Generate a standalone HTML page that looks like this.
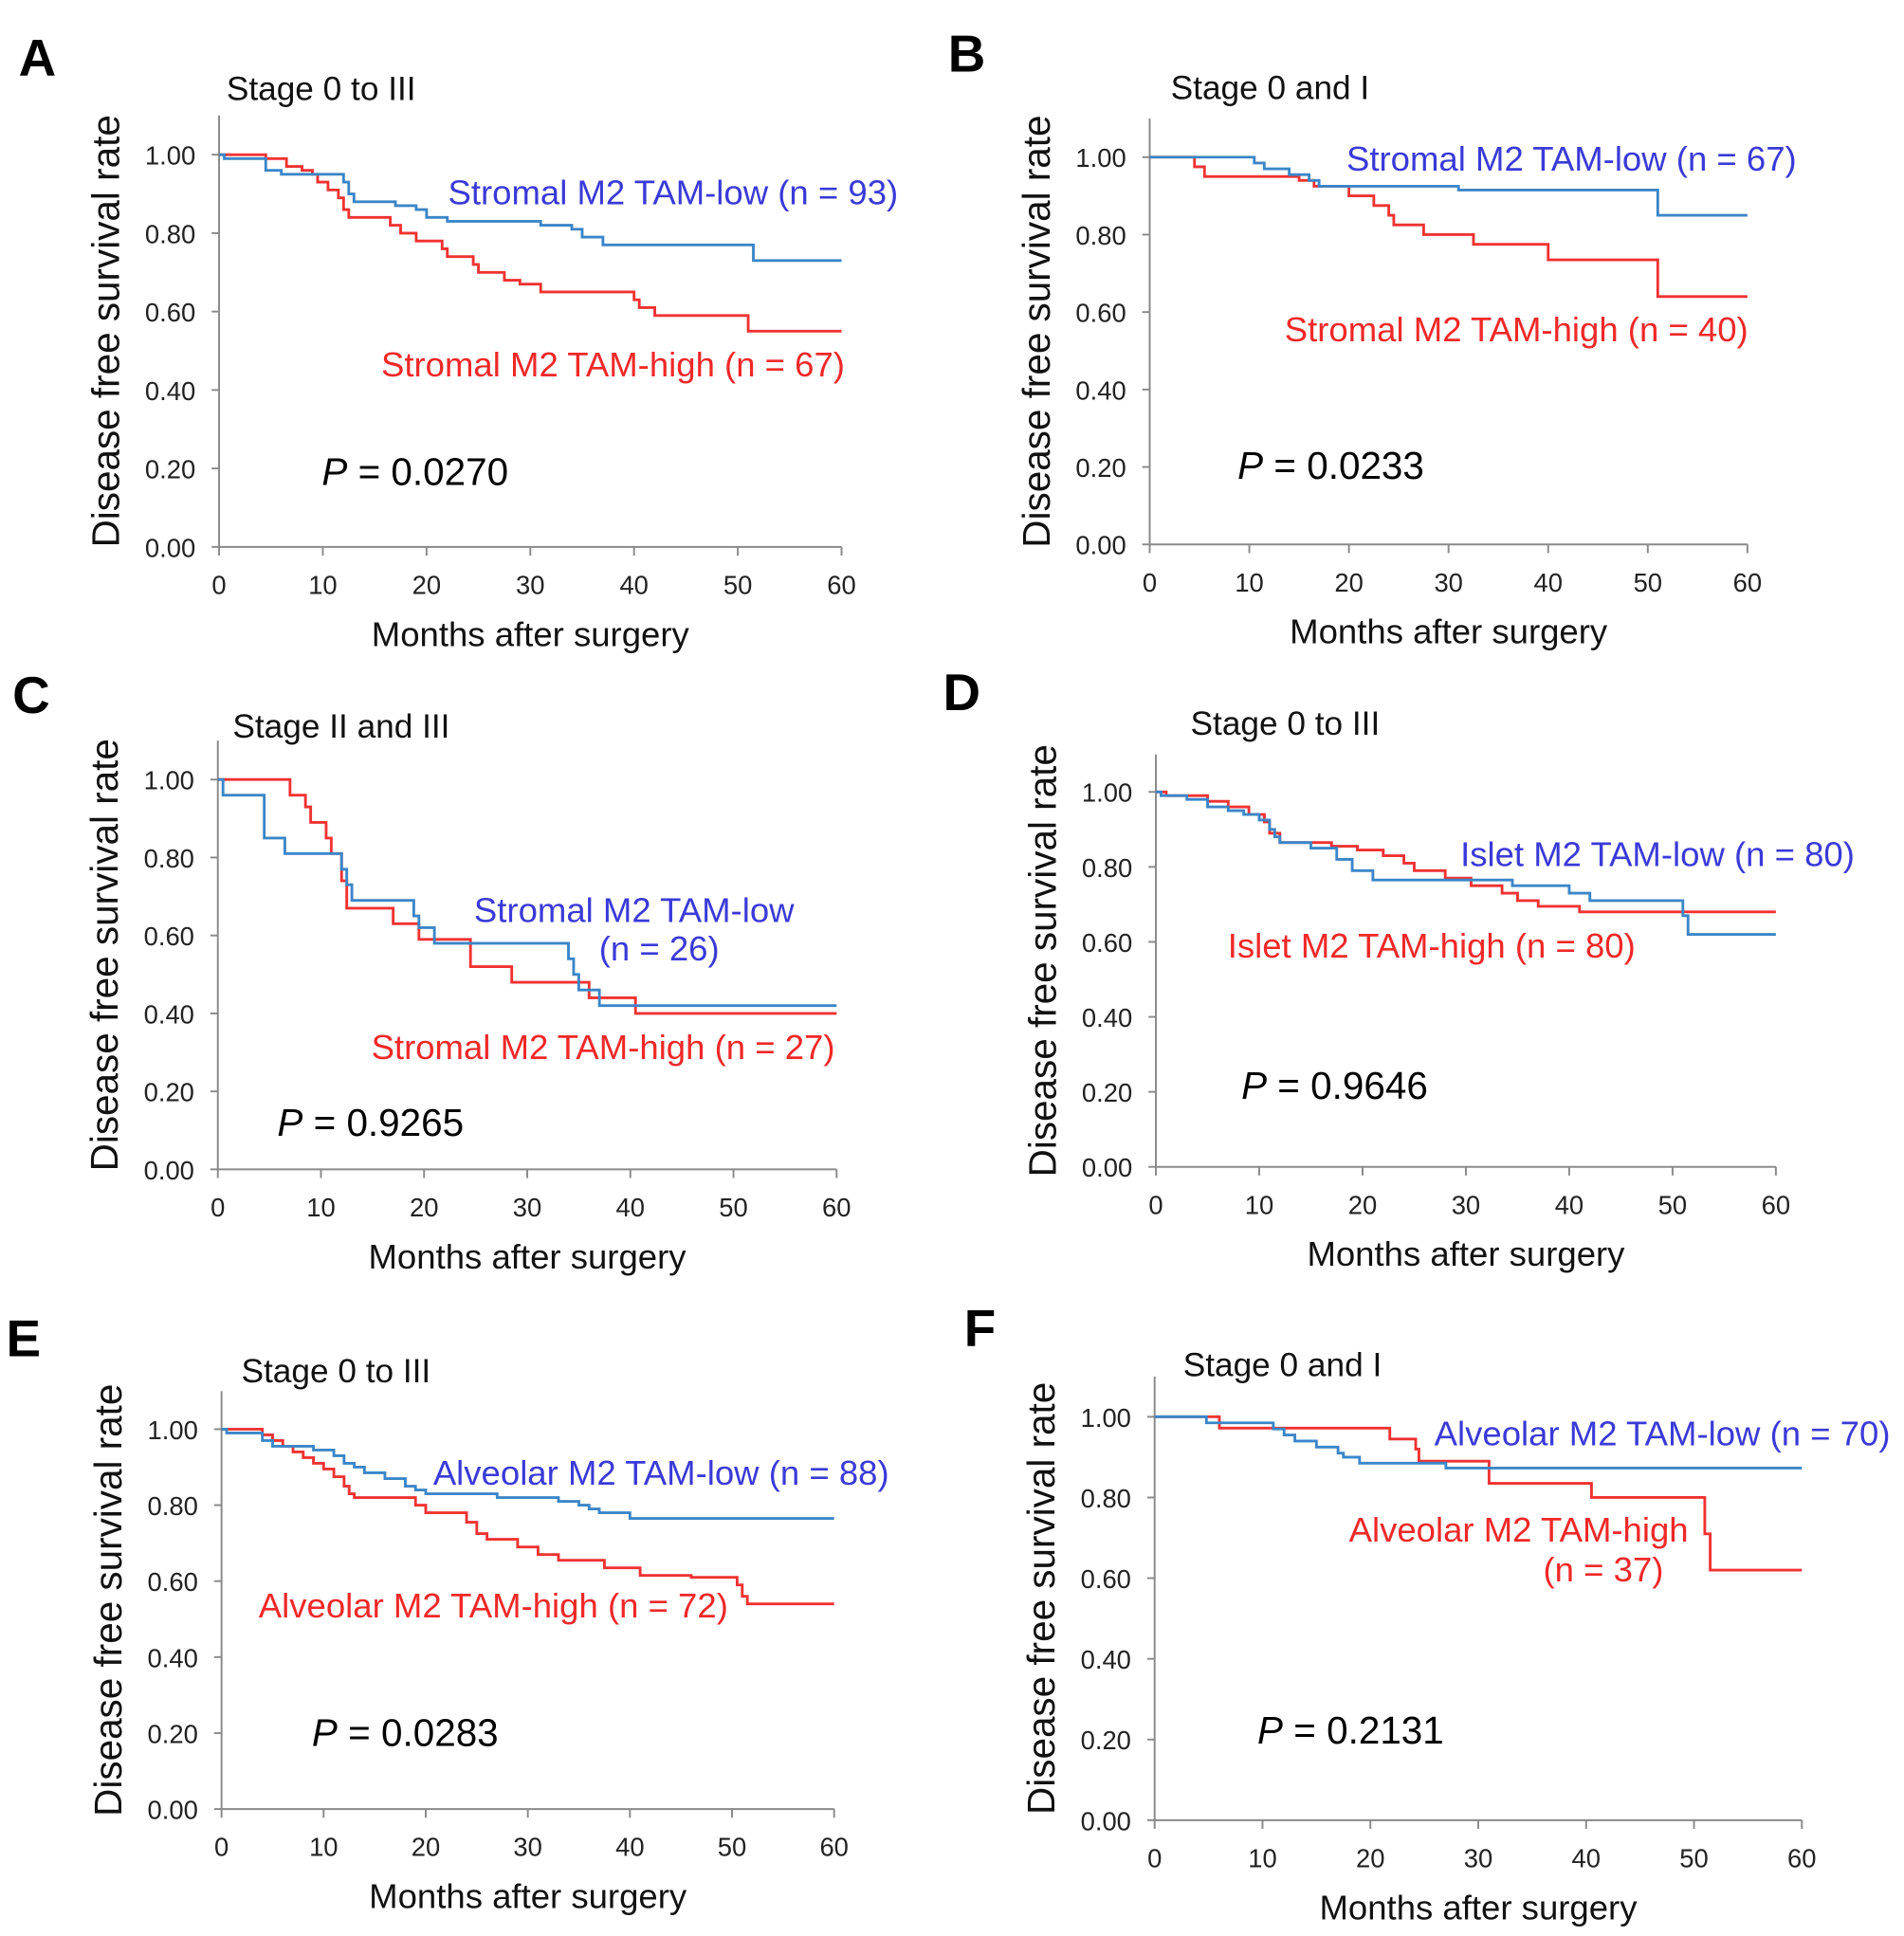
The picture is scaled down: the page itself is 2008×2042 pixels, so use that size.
<!DOCTYPE html>
<html><head><meta charset="utf-8"><style>
html,body{margin:0;padding:0;background:#fff}
svg{display:block;font-family:"Liberation Sans",Arial,sans-serif}
</style></head><body>
<svg id="fig" width="2008" height="2042" viewBox="0 0 1538.5 1564.6" xmlns="http://www.w3.org/2000/svg"></svg>
<script>
// ---- data (months, survival) ----
const xTicks = [0,10,20,30,40,50,60];
const yTicks = [0,0.2,0.4,0.6,0.8,1.0];
const yTickLabels = ["0.00","0.20","0.40","0.60","0.80","1.00"];

const aLowT = [0,0.5,4.5,6,11,12,12.5,13,17,19,20,22,31,34,35,37,51.5,60];
const aLowS = [1,0.99,0.96,0.95,0.95,0.93,0.90,0.88,0.87,0.86,0.84,0.83,0.82,0.81,0.79,0.77,0.73,0.73];
const aHighT = [0,4.5,6.5,8,9,9.5,10.5,11.5,12,12.5,16.5,17.5,19,21.5,22,24.5,25,27.5,29,31,40,40.5,42,51,60];
const aHighS = [1,0.99,0.97,0.96,0.95,0.93,0.91,0.89,0.86,0.84,0.82,0.80,0.78,0.76,0.74,0.72,0.70,0.68,0.67,0.65,0.63,0.61,0.59,0.55,0.55];

const bLowT = [0,10.5,11.5,14,16,17,31,51,60];
const bLowS = [1,0.985,0.97,0.955,0.94,0.925,0.915,0.85,0.85];
const bHighT = [0,4.5,5.5,15,16.5,20,22.5,24,24.5,27.5,32.5,40,51,60];
const bHighS = [1,0.975,0.95,0.94,0.925,0.90,0.875,0.85,0.825,0.80,0.775,0.735,0.64,0.64];

const cLowT = [0,0.5,4.5,6.5,12,12.5,13,19,19.5,21,34,34.5,35,37,60];
const cLowS = [1,0.96,0.85,0.81,0.77,0.73,0.69,0.65,0.62,0.58,0.54,0.50,0.46,0.42,0.42];
const cHighT = [0,7,8.5,9,10.5,11,12,12.5,17,19.5,24.5,28.5,36,40.5,60];
const cHighS = [1,0.96,0.93,0.89,0.85,0.81,0.74,0.67,0.63,0.59,0.52,0.48,0.44,0.40,0.40];

const dLowT = [0,0.5,3,5,7,8.5,10,11,11.5,12,15,17.5,19,21,34.5,40,42,51,51.5,60];
const dLowS = [1,0.99,0.98,0.96,0.95,0.94,0.925,0.90,0.88,0.865,0.85,0.82,0.79,0.765,0.75,0.73,0.71,0.67,0.62,0.62];
const dHighT = [0,1,5,7,9,10.5,11,12,17,19.5,22,24,25,28,30.5,33.5,35,37,41,60];
const dHighS = [1,0.99,0.975,0.96,0.94,0.92,0.89,0.865,0.855,0.845,0.83,0.81,0.79,0.77,0.75,0.73,0.71,0.695,0.68,0.68];

const eLowT = [0,0.5,4,5,9,11,12,13,14,16,18,19,20,27,33,35,36,37,40,60];
const eLowS = [1,0.99,0.97,0.955,0.945,0.93,0.91,0.90,0.885,0.87,0.85,0.84,0.83,0.82,0.81,0.80,0.79,0.78,0.765,0.765];
const eHighT = [0,4,5,6,7,8,9,10,11,12,12.5,13,19,20,24,25,26,29,31,33,37.5,41,46,50.5,51,51.5,60];
const eHighS = [1,0.985,0.97,0.955,0.94,0.925,0.91,0.895,0.875,0.85,0.83,0.82,0.80,0.78,0.755,0.725,0.71,0.69,0.67,0.655,0.635,0.615,0.61,0.59,0.56,0.54,0.54];

const fLowT = [0,4.8,11,12,13,15,17,17.5,19,27,60];
const fLowS = [1,0.985,0.97,0.955,0.94,0.925,0.91,0.90,0.885,0.873,0.873];
const fHighT = [0,6,21.8,24.2,24.5,31,40.5,51,51.5,60];
const fHighS = [1,0.972,0.945,0.92,0.89,0.835,0.80,0.71,0.62,0.62];

// ---- layout ----
const panels = [
 {id:"a",letter:"A",lx:25,ly:45,title:"Stage 0 to III",tx:183,ty:81,x0:177,x1:680,y1:125,y0:442,
  low:[aLowT,aLowS],high:[aHighT,aHighS],
  lowLab:[["Stromal M2 TAM-low (n = 93)",362,165]],highLab:[["Stromal M2 TAM-high (n = 67)",308,304]],p:["0.0270",260,392]},
 {id:"b",letter:"B",lx:776,ly:42,title:"Stage 0 and I",tx:946,ty:80,x0:929,x1:1412,y1:127,y0:440,
  low:[bLowT,bLowS],high:[bHighT,bHighS],
  lowLab:[["Stromal M2 TAM-low (n = 67)",1088,138]],highLab:[["Stromal M2 TAM-high (n = 40)",1038,276]],p:["0.0233",1000,387]},
 {id:"c",letter:"C",lx:20,ly:560,title:"Stage II and III",tx:188,ty:596,x0:176,x1:676,y1:630,y0:945,
  low:[cLowT,cLowS],high:[cHighT,cHighS],
  lowLab:[["Stromal M2 TAM-low",383,745],["(n = 26)",484,776]],highLab:[["Stromal M2 TAM-high (n = 27)",300,856]],p:["0.9265",224,918]},
 {id:"d",letter:"D",lx:772,ly:558,title:"Stage 0 to III",tx:962,ty:594,x0:934,x1:1435,y1:640,y0:943,
  low:[dLowT,dLowS],high:[dHighT,dHighS],
  lowLab:[["Islet M2 TAM-low (n = 80)",1180,700]],highLab:[["Islet M2 TAM-high (n = 80)",992,774]],p:["0.9646",1003,888]},
 {id:"e",letter:"E",lx:15,ly:1080,title:"Stage 0 to III",tx:195,ty:1117,x0:179,x1:674,y1:1155,y0:1462,
  low:[eLowT,eLowS],high:[eHighT,eHighS],
  lowLab:[["Alveolar M2 TAM-low (n = 88)",350,1200]],highLab:[["Alveolar M2 TAM-high (n = 72)",209,1307]],p:["0.0283",252,1411]},
 {id:"f",letter:"F",lx:789,ly:1072,title:"Stage 0 and I",tx:956,ty:1112,x0:933,x1:1456,y1:1145,y0:1471,
  low:[fLowT,fLowS],high:[fHighT,fHighS],
  lowLab:[["Alveolar M2 TAM-low (n = 70)",1159,1168]],highLab:[["Alveolar M2 TAM-high",1090,1246],["(n = 37)",1247,1278]],p:["0.2131",1016,1409]}
];

const NS="http://www.w3.org/2000/svg";
const svg=document.getElementById("fig");
function mk(tag,parent,attrs){const e=document.createElementNS(NS,tag);for(const k in attrs)e.setAttribute(k,attrs[k]);parent.appendChild(e);return e;}
function txt(parent,s,attrs){const e=mk("text",parent,attrs);e.textContent=s;return e;}

panels.forEach(P=>{
  const g=mk("g",svg,{});
  
  
  const sx=t=>P.x0+(t/60)*(P.x1-P.x0);
  const sy=v=>P.y0-v*(P.y0-P.y1);
  const L=txt(g,P.letter,{x:P.lx-10,y:P.ly+16,"font-size":42,"font-weight":"bold",fill:"#000"});
  
  
  const T=txt(g,P.title,{x:P.tx,y:P.ty,"font-size":27,fill:"#111"});
  
  
  const ax=mk("path",g,{d:`M${P.x0} ${sy(1.1)} V${P.y0} H${P.x1}`,stroke:"#8a8a8a","stroke-width":1.5,fill:"none"});
  
  
  yTicks.forEach((v,i)=>{
    mk("line",g,{x1:P.x0-6,x2:P.x0,y1:sy(v),y2:sy(v),stroke:"#8a8a8a","stroke-width":1.5});
    const t=txt(g,yTickLabels[i],{x:P.x0-19,y:sy(v)+8,"font-size":21,"text-anchor":"end",fill:"#222"});
    
    
  });
  xTicks.forEach(v=>{
    mk("line",g,{x1:sx(v),x2:sx(v),y1:P.y0,y2:P.y0+7,stroke:"#8a8a8a","stroke-width":1.5});
    const t=txt(g,String(v),{x:sx(v),y:P.y0+38,"font-size":21,"text-anchor":"middle",fill:"#222"});
    
    
  });
  const xt=txt(g,"Months after surgery",{x:(P.x0+P.x1)/2,y:P.y0+80,"font-size":28,"text-anchor":"middle",fill:"#111"});
  
  
  const ycx=P.x0-81, ycy=(sy(1.1)+P.y0)/2;
  const yt=txt(g,"Disease free survival rate",{x:ycx,y:ycy,"font-size":31,"text-anchor":"middle",fill:"#111",transform:`rotate(-90 ${ycx} ${ycy})`});
  
  
  [["high","#f03232"],["low","#3b86c8"]].forEach(([k,col])=>{
    const [T2,S]=P[k];
    let d=`M${sx(T2[0])} ${sy(S[0])}`;
    for(let i=1;i<T2.length;i++){d+=` H${sx(T2[i])} V${sy(S[i])}`;}
    const p=mk("path",g,{d:d,stroke:col,"stroke-width":2.2,fill:"none"});
    
    
  });
  P.lowLab.forEach(l=>{
    const t=txt(g,l[0],{x:l[1],y:l[2],"font-size":28,fill:"#3a3ad8"});
    
    
  });
  P.highLab.forEach(l=>{
    const t=txt(g,l[0],{x:l[1],y:l[2],"font-size":28,fill:"#f02828"});
    
    
  });
  const pt=mk("text",g,{x:P.p[1],y:P.p[2],"font-size":31,fill:"#000"});
  
  
  const it=mk("tspan",pt,{"font-style":"italic"});it.textContent="P";
  const rt=mk("tspan",pt,{});rt.textContent=" = "+P.p[0];
});
</script>
</body></html>
